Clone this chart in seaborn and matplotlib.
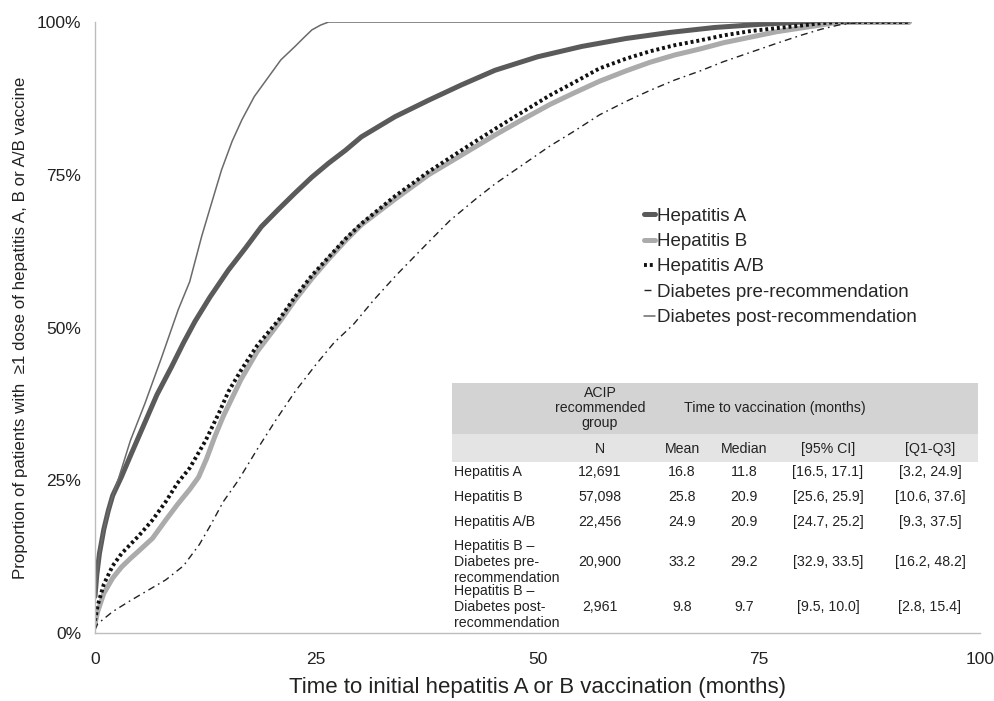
import matplotlib
matplotlib.use("Agg")
import matplotlib.pyplot as plt
import seaborn as sns
import pandas as pd
from matplotlib.ticker import PercentFormatter
from matplotlib.patches import Rectangle


# ----------------------------
# Curve data (months, % vaccinated)
# ----------------------------

hepA_t = [0, 0.2, 0.5, 1, 1.5, 2, 3, 4, 5.65, 7, 8.66, 10, 11.3, 13, 15.07, 17,
          18.8, 20.7, 22.6, 24.5, 26.4, 28.3, 30.1, 33.9, 37.7, 41.4, 45.2, 50,
          55, 60, 65, 70, 75, 80, 92]
hepA_v = [6, 9.5, 13, 17, 20, 22.5, 25.6, 29, 34.5, 39, 43.6, 47.5, 51, 55, 59.4, 63,
          66.5, 69.3, 72, 74.6, 76.9, 79, 81.2, 84.5, 87.2, 89.7, 92.1, 94.3,
          96, 97.3, 98.3, 99.1, 99.6, 100, 100]

hepB_t = [0, 0.3, 1, 2, 3, 4, 5, 6.5, 8, 9.3, 10.7, 11.7, 12.6, 13.5, 14.5, 15.5,
          16.5, 18.3, 20.9, 22.6, 24.5, 26.4, 28.3, 30.1, 33.9, 37.7, 41.4, 45.2,
          48, 51.4, 54, 57, 60, 62.7, 65.5, 68.4, 71, 74, 77, 79.7, 82, 84, 92]
hepB_v = [1.5, 3.5, 6.5, 9, 10.8, 12.2, 13.5, 15.5, 18.5, 21, 23.5, 25.5, 28.5, 32,
          35.5, 38.5, 41.5, 46, 51, 54.5, 58, 61.2, 64.2, 66.8, 71, 75, 78.2, 81.5,
          83.8, 86.5, 88.3, 90.3, 92, 93.4, 94.6, 95.6, 96.6, 97.5, 98.4, 99, 99.5,
          100, 100]

hepAB_t = [0, 0.3, 1, 2, 3, 4, 5, 6.5, 8, 9.3, 10.7, 12.5, 14, 15.07, 16.5, 18.3,
           20.9, 22.6, 24.5, 26.4, 28.3, 30.1, 33.9, 37.7, 41.4, 45.2, 48, 51.4,
           54, 57, 60, 62.7, 65.5, 68.4, 71, 74, 77, 79.7, 82, 84, 92]
hepAB_v = [2, 4.5, 8, 11, 13, 14.5, 16, 18.5, 21.5, 24.5, 27, 31.5, 36, 39.5, 43,
           47, 51.5, 55, 58.5, 61.5, 64.5, 67, 71.5, 75.5, 79, 82.5, 85, 88, 90,
           92.4, 94, 95.2, 96.2, 97, 97.8, 98.5, 99, 99.4, 99.8, 100, 100]

pre_t = [0, 0.3, 2, 4, 6, 8, 10, 11.8, 13, 14.5, 16.2, 18.3, 20.5, 22.6, 25, 27,
         29.2, 31.5, 34, 37.7, 40.1, 43, 45.2, 48.2, 51.4, 54, 57, 60, 62.7, 65.5,
         68.4, 71, 74, 77, 79.7, 82, 84, 86.5, 92]
pre_v = [0.5, 1.5, 3.5, 5.3, 7, 8.7, 11, 14.5, 17.5, 21.5, 25, 30, 35, 39.5, 44,
         47.5, 50.5, 54.5, 58.5, 64, 67.5, 71, 73.5, 76.5, 79.7, 82, 84.8, 87,
         88.8, 90.5, 92, 93.5, 95, 96.5, 97.8, 98.8, 99.5, 100, 100]

post_t = [0, 0.2, 0.5, 1, 1.5, 2, 2.6, 4, 5.65, 7.5, 9.4, 10.7, 12.05, 13.2, 14.3,
          15.5, 16.6, 18, 19.6, 21, 22.6, 23.5, 24.5, 25.5, 26.4, 92]
post_v = [5, 9, 13, 17, 20, 22.5, 25, 31.5, 37.6, 45, 52.9, 57.5, 64.9, 70.5, 75.8,
          80.5, 84, 87.8, 91, 93.8, 96, 97.3, 98.7, 99.5, 100, 100]

series_labels = ["Hepatitis A", "Hepatitis B", "Hepatitis A/B",
                 "Diabetes pre-recommendation", "Diabetes post-recommendation"]

# ----------------------------
# Table data
# ----------------------------

row_labels = ["Hepatitis A", "Hepatitis B", "Hepatitis A/B",
              "Hepatitis B \u2013\nDiabetes pre-\nrecommendation",
              "Hepatitis B \u2013\nDiabetes post-\nrecommendation"]
col_labels = ["N", "Mean", "Median", "[95% CI]", "[Q1-Q3]"]
n_vals = ["12,691", "57,098", "22,456", "20,900", "2,961"]
mean_vals = ["16.8", "25.8", "24.9", "33.2", "9.8"]
median_vals = ["11.8", "20.9", "20.9", "29.2", "9.7"]
ci_vals = ["[16.5, 17.1]", "[25.6, 25.9]", "[24.7, 25.2]", "[32.9, 33.5]", "[9.5, 10.0]"]
iqr_vals = ["[3.2, 24.9]", "[10.6, 37.6]", "[9.3, 37.5]", "[16.2, 48.2]", "[2.8, 15.4]"]


# ----------------------------
# Style
# ----------------------------

sns.set_theme(style="white")
plt.rcParams["font.family"] = ["Liberation Sans", "DejaVu Sans"]

fig = plt.figure(figsize=(9.94, 7.01), dpi=100)
ax = fig.add_axes([95 / 994, 1 - 633 / 701, 885 / 994, 611 / 701])

styles = [
    dict(color="#5a5a5a", linewidth=3.6, linestyle="-"),
    dict(color="#ababab", linewidth=3.6, linestyle="-"),
    dict(color="#111111", linewidth=2.8, linestyle=(0, (0.75, 0.75))),
    dict(color="#222222", linewidth=1.0, linestyle=(0, (5, 3, 1.2, 3))),
    dict(color="#6a6a6a", linewidth=1.1, linestyle="-"),
]
curves = [(hepA_t, hepA_v), (hepB_t, hepB_v), (hepAB_t, hepAB_v),
          (pre_t, pre_v), (post_t, post_v)]

for (t, v), lab, st in zip(curves, series_labels, styles):
    df = pd.DataFrame({"month": t, "pct": v})
    sns.lineplot(data=df, x="month", y="pct", ax=ax, label=lab, **st)

ax.set_xlim(0, 100)
ax.set_ylim(0, 100)
ax.set_xticks([0, 25, 50, 75, 100])
ax.set_yticks([0, 25, 50, 75, 100])
ax.yaxis.set_major_formatter(PercentFormatter(decimals=0))
ax.tick_params(axis="both", length=0, labelsize=12.5, colors="#222222")
ax.tick_params(axis="x", pad=14)
ax.tick_params(axis="y", pad=10)

for side in ["top", "right"]:
    ax.spines[side].set_visible(False)
for side in ["left", "bottom"]:
    ax.spines[side].set_color("#bdbdbd")
    ax.spines[side].set_linewidth(1.0)

ax.set_xlabel("Time to initial hepatitis A or B vaccination (months)",
              fontsize=16, labelpad=7, color="#222222")
ax.set_ylabel("Proportion of patients with  \u22651 dose of hepatitis A, B or A/B vaccine",
              fontsize=12.2, labelpad=6, color="#222222")

ax.legend(loc="upper left", bbox_to_anchor=(0.612, 0.7085), frameon=False,
          fontsize=13.5, handlelength=0.6, handletextpad=0.1,
          labelspacing=0.44, borderaxespad=0)


# ----------------------------
# Inset table
# ----------------------------

tab = fig.add_axes([452 / 994, 1 - 633 / 701, 526 / 994, 250 / 701])
tab.set_xlim(0, 526)
tab.set_ylim(250, 0)
tab.axis("off")
tab.add_patch(Rectangle((0, 0), 526, 248, facecolor="white", edgecolor="none"))
tab.add_patch(Rectangle((0, 0), 526, 51, facecolor="#d3d3d3", edgecolor="none"))
tab.add_patch(Rectangle((0, 51), 526, 28, facecolor="#e4e4e4", edgecolor="none"))

fs = 10.2
col_x = [148, 230, 292, 376, 478]
tab.text(148, 25, "ACIP\nrecommended\ngroup", ha="center", va="center",
         fontsize=fs, linespacing=1.1, color="#222222")
tab.text(323, 25, "Time to vaccination (months)", ha="center", va="center",
         fontsize=fs, color="#222222")
for x, lab in zip(col_x, col_labels):
    tab.text(x, 66, lab, ha="center", va="center", fontsize=fs, color="#222222")

row_y = [89, 114, 139, 179, 224]
columns = [n_vals, mean_vals, median_vals, ci_vals, iqr_vals]
for i, (y, lab) in enumerate(zip(row_y, row_labels)):
    tab.text(2, y, lab, ha="left", va="center", fontsize=fs,
             linespacing=1.2, color="#222222")
    for x, col in zip(col_x, columns):
        tab.text(x, y, col[i], ha="center", va="center", fontsize=fs, color="#222222")

fig.savefig("out.png", dpi=100)
